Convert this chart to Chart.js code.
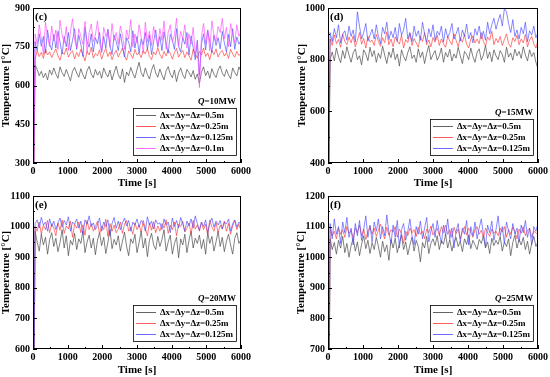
<!DOCTYPE html>
<html>
<head>
<meta charset="utf-8">
<script src="https://cdn.jsdelivr.net/npm/chart.js@4.4.1/dist/chart.umd.min.js"></script>
<style>
  html, body { margin: 0; padding: 0; background: #fff; }
  #wrap { position: relative; width: 550px; height: 377px; overflow: hidden; }
  canvas { position: absolute; }
</style>
</head>
<body>
<div id="wrap">
  <canvas id="pc" width="275" height="190" style="left:0;top:0"></canvas>
  <canvas id="pd" width="275" height="190" style="left:275px;top:0"></canvas>
  <canvas id="pe" width="275" height="189" style="left:0;top:188px"></canvas>
  <canvas id="pf" width="275" height="189" style="left:275px;top:188px"></canvas>
</div>
<script>
// sampling times [s]
const times = [0,60,120,180,240,300,360,420,480,540,600,660,720,780,840,900,960,1020,1080,1140,1200,1260,1320,1380,1440,1500,1560,1620,1680,1740,1800,1860,1920,1980,2040,2100,2160,2220,2280,2340,2400,2460,2520,2580,2640,2700,2760,2820,2880,2940,3000,3060,3120,3180,3240,3300,3360,3420,3480,3540,3600,3660,3720,3780,3840,3900,3960,4020,4080,4140,4200,4260,4320,4380,4440,4500,4560,4620,4680,4740,4800,4860,4920,4980,5040,5100,5160,5220,5280,5340,5400,5460,5520,5580,5640,5700,5760,5820,5880,5940,6000];

const gridLabels = ['Δx=Δy=Δz=0.5m', 'Δx=Δy=Δz=0.25m', 'Δx=Δy=Δz=0.125m', 'Δx=Δy=Δz=0.1m'];

// (c) Q = 10 MW
const c05 = [20,
  680,662,638,655,630,648,622,660,641,668, 645,628,672,650,635,662,640,618,655,670,
  648,632,665,641,625,658,674,645,630,662, 640,655,628,668,646,633,660,621,650,675,
  642,626,664,612,652,638,670,647,629,661, 690,650,634,668,642,625,659,681,648,632,
  664,640,622,657,673,645,630,660,615,649, 668,641,627,662,650,633,658,624,645,608,
  652,672,638,656,628,665,644,631,660,676, 648,635,662,641,626,668,650,637,672,655];
const c025 = [20,
  700,735,712,728,705,740,718,730,708,725, 742,715,698,730,720,745,710,726,735,703,
  728,712,740,720,695,732,718,748,706,724, 715,738,702,726,744,712,730,700,722,736,
  710,728,745,716,698,734,720,705,740,718, 726,708,735,722,742,712,700,730,718,746,
  720,705,732,715,738,725,702,728,744,710, 724,736,708,730,715,698,740,722,706,732,
  718,745,712,726,700,735,720,742,710,728, 736,714,728,705,740,722,710,732,716,725];
const c0125 = [20,
  770,735,800,752,790,725,815,760,738,798, 745,810,768,722,790,750,805,735,775,820,
  740,795,760,712,825,770,748,800,730,785, 762,805,728,790,745,818,755,720,795,770,
  735,800,752,710,785,768,730,812,745,790, 725,780,758,805,740,795,720,770,815,748,
  790,735,808,762,725,798,775,740,820,752, 730,785,760,805,718,792,748,700,775,640,
  760,800,738,815,770,728,795,755,785,742, 810,765,730,798,750,820,740,788,760,775];
const c01 = [20,
  800,760,835,780,720,845,790,750,830,772, 815,740,852,795,765,828,735,810,858,778,
  745,820,790,760,848,725,805,838,770,795, 850,765,730,825,790,812,748,840,775,805,
  760,830,795,740,815,780,855,750,800,765, 835,790,725,845,770,810,755,828,788,750,
  820,775,850,740,805,835,770,795,860,752, 810,780,835,745,800,760,825,720,770,592,
  790,840,760,815,735,850,795,770,828,805, 860,780,825,750,840,795,765,835,790,810];

// (d) Q = 15 MW
const d05 = [20,
  800,830,795,845,812,788,835,805,850,818, 790,826,842,800,815,780,838,822,796,848,
  812,835,790,825,805,852,818,785,830,808, 845,800,822,775,838,812,795,828,850,805,
  818,790,842,808,830,785,825,855,800,820, 835,798,815,845,790,828,810,840,795,822,
  806,848,815,785,832,820,800,845,812,790, 828,842,798,818,855,805,830,792,838,815,
  800,835,820,790,848,810,826,798,840,815, 832,805,850,818,795,838,812,828,790,765];
const d025 = [20,
  880,855,895,862,878,848,900,870,858,888, 865,892,850,875,905,860,882,845,890,868,
  876,855,898,870,852,885,866,908,858,880, 850,888,872,860,895,845,878,866,902,855,
  882,865,848,890,870,905,858,876,850,886, 868,895,855,880,862,848,890,872,858,900,
  875,850,885,868,898,860,845,880,892,865, 880,862,905,870,852,888,875,910,858,882,
  866,890,855,878,900,862,848,885,870,895, 858,880,865,898,850,876,890,862,845,875];
const d0125 = [20,
  905,870,920,885,935,865,898,912,875,930, 890,915,868,985,930,880,905,940,872,895,
  918,880,935,890,862,925,900,945,878,910, 885,925,870,940,895,915,960,880,905,870,
  930,890,912,875,945,900,868,920,888,935, 875,910,895,930,868,920,885,905,940,880,
  900,925,872,915,890,938,880,905,865,920, 895,930,880,910,875,945,900,935,960,918,
  950,975,930,998,985,940,905,955,890,915, 880,925,900,945,870,912,895,930,885,905];

// (e) Q = 20 MW
const e05 = [20,
  985,950,920,975,940,965,910,958,980,935, 962,918,948,990,930,970,905,955,940,978,
  925,960,945,985,915,950,972,930,962,908, 955,980,938,965,912,948,990,928,958,940,
  970,920,952,982,935,905,960,945,975,915, 948,985,930,962,902,955,978,940,925,968,
  935,958,990,920,950,972,910,945,965,898, 960,940,975,915,955,985,930,962,945,972,
  928,958,910,980,945,968,920,950,985,935, 965,918,952,975,940,910,962,980,945,958];
const e025 = [20,
  1000,985,1015,975,1005,990,1020,980,1010,995, 970,1012,988,1022,978,1002,992,1018,965,1008,
  995,1015,980,1006,972,1020,990,1010,985,1000, 1018,975,1002,990,1024,968,1010,985,1005,980,
  992,1015,978,1008,1020,985,998,975,1012,990, 1005,982,1020,995,970,1012,988,1016,980,1002,
  985,1010,995,1022,978,1005,990,1015,970,1008, 1000,1018,982,995,1012,975,1020,992,1005,985,
  1015,990,1008,972,1022,998,985,1012,980,1005, 992,1018,985,1010,975,1002,1020,990,1008,985];
const e0125 = [20,
  1010,1022,995,1030,1005,1015,985,1025,1000,1018, 990,1012,1028,998,1020,1005,1032,985,1015,1008,
  1025,995,1018,975,1022,1008,1035,1000,1012,990, 1005,1028,985,1015,1000,1022,970,1010,1030,995,
  1018,990,1012,1028,1002,1020,985,1015,1005,1025, 998,1020,1010,985,1032,1005,1018,992,1022,1008,
  1012,990,1025,1005,1015,980,1028,1000,1020,995, 1030,1008,985,1018,1002,1025,995,1035,1010,988,
  1015,1000,1022,980,1012,1028,998,1018,1005,1020, 992,1015,1008,1025,985,1010,1022,998,1015,1005];

// (f) Q = 25 MW
const f05 = [20,
  1060,1025,1048,1010,1055,1030,1068,1015,1045,1000, 1038,1062,1020,1050,1005,1042,1070,1028,1055,1012,
  1048,1025,1065,1035,1000,1052,1018,1040,990,1058, 1030,1062,1015,1045,1072,1025,1050,1008,1040,1065,
  1020,1055,1035,985,1048,1030,1068,1012,1045,1060, 1038,1070,1025,1055,1042,1075,1030,1058,1020,1048,
  1065,1035,1052,1018,1060,1042,1072,1028,1055,1040, 1025,1058,1045,1070,1030,1050,1012,1062,1038,1055,
  1042,1068,1020,1050,1035,1060,1005,1048,1072,1030, 1058,1040,1065,1025,1052,1010,1045,1068,1035,1050];
const f025 = [20,
  1100,1070,1085,1060,1095,1075,1090,1065,1100,1078, 1088,1062,1095,1080,1105,1070,1092,1058,1085,1100,
  1075,1095,1068,1088,1108,1080,1060,1098,1072,1090, 1082,1100,1065,1092,1078,1045,1085,1070,1095,1080,
  1090,1068,1098,1075,1085,1060,1092,1080,1102,1072, 1085,1095,1070,1100,1080,1105,1075,1090,1065,1098,
  1078,1092,1060,1085,1100,1072,1095,1082,1065,1090, 1100,1075,1088,1062,1095,1080,1068,1092,1078,1085,
  1070,1095,1082,1100,1065,1090,1075,1098,1085,1060, 1092,1078,1100,1070,1088,1095,1065,1085,1080,1072];
const f0125 = [20,
  1110,1060,1125,1075,1100,1045,1115,1080,1130,1065, 1095,1040,1110,1070,1120,1055,1090,1135,1065,1105,
  1050,1115,1085,1125,1060,1100,1070,1138,1080,1045, 1105,1065,1120,1030,1090,1110,1055,1085,1125,1070,
  1040,1100,1075,1118,1060,1095,1130,1050,1085,1110, 1065,1120,1080,1045,1105,1070,1125,1060,1095,1030,
  1085,1110,1050,1095,1075,1120,1040,1100,1070,1115, 1060,1095,1125,1075,1035,1105,1080,1118,1055,1090,
  1135,1070,1100,1045,1115,1085,1060,1110,1075,1095, 1050,1105,1080,1120,1065,1095,1040,1100,1085,1110];

const lineColors = ['rgba(70,70,70,0.85)', 'rgba(255,50,50,0.8)', 'rgba(70,70,255,0.8)', 'rgba(255,70,255,0.8)'];
const serif = "'Liberation Serif', 'Times New Roman', serif";

// panel layout (pixel sizes only)
const panels = [
  { id: 'pc', tag: '(c)', q: '=10MW', y: [300, 900, 150], series: [c05, c025, c0125, c01], yW: 33, xH: 27, right: 34, tPad: 0 },
  { id: 'pd', tag: '(d)', q: '=15MW', y: [400, 1000, 200], series: [d05, d025, d0125], yW: 53, xH: 27, right: 11, tPad: 21 },
  { id: 'pe', tag: '(e)', q: '=20MW', y: [600, 1100, 100], series: [e05, e025, e0125], yW: 33, xH: 28, right: 34, tPad: 0 },
  { id: 'pf', tag: '(f)', q: '=25MW', y: [700, 1200, 100], series: [f05, f025, f0125], yW: 53, xH: 28, right: 11, tPad: 19.5 }
];

// frame, inward ticks, panel tag and boxed legend
const decor = {
  id: 'decor',
  afterDraw(chart, args, opts) {
    const { ctx, chartArea: a, scales: { x, y } } = chart;
    ctx.save();
    ctx.strokeStyle = '#000';
    ctx.lineWidth = 1;
    ctx.strokeRect(a.left + 0.5, a.top + 0.5, a.width - 1, a.height - 1);
    ctx.beginPath();
    const xs = x.options.ticks.stepSize;
    for (let v = x.min; v <= x.max; v += xs / 2) {
      const px = Math.round(x.getPixelForValue(v)) + 0.5;
      const len = (v % xs === 0) ? 4 : 2;
      ctx.moveTo(px, a.bottom); ctx.lineTo(px, a.bottom - len);
    }
    const ys = y.options.ticks.stepSize;
    for (let v = y.min; v <= y.max; v += ys / 2) {
      const py = Math.round(y.getPixelForValue(v)) + 0.5;
      const len = ((v - y.min) % ys === 0) ? 4 : 2;
      ctx.moveTo(a.left, py); ctx.lineTo(a.left + len, py);
    }
    ctx.stroke();

    ctx.fillStyle = '#000';
    ctx.font = 'bold 11px ' + serif;
    ctx.textBaseline = 'middle';
    ctx.textAlign = 'left';
    ctx.fillText(opts.tag, a.left + 2, a.top + 9);

    // legend box
    ctx.font = 'bold 9px ' + serif;
    const sets = chart.data.datasets;
    const tw = Math.max(...sets.map(d => ctx.measureText(d.label).width));
    const bw = 27 + tw + 3;
    const bh = sets.length * 11 + 3;
    const bx = a.right - 5 - bw;
    const by = a.bottom - 8 - bh;
    ctx.fillStyle = '#fff';
    ctx.fillRect(bx, by, bw, bh);
    ctx.strokeStyle = '#000';
    ctx.lineWidth = 0.8;
    ctx.strokeRect(Math.round(bx) + 0.5, Math.round(by) + 0.5, Math.round(bw), Math.round(bh));
    sets.forEach((d, i) => {
      const ry = by + 2 + 5.5 + i * 11;
      ctx.strokeStyle = d.borderColor;
      ctx.lineWidth = 1;
      ctx.beginPath();
      ctx.moveTo(bx + 3, ry); ctx.lineTo(bx + 23, ry);
      ctx.stroke();
      ctx.fillStyle = '#000';
      ctx.fillText(d.label, bx + 27, ry + 0.5);
    });

    // Q label
    ctx.font = 'bold 9px ' + serif;
    const rest = ctx.measureText(opts.q).width;
    ctx.textAlign = 'right';
    ctx.fillText(opts.q, bx + bw, by - 6);
    ctx.font = 'italic bold 9px ' + serif;
    ctx.fillText('Q', bx + bw - rest, by - 6);
    ctx.restore();
  }
};

panels.forEach(p => {
  const n = p.series.length;
  new Chart(document.getElementById(p.id), {
    type: 'line',
    data: {
      datasets: p.series.map((vals, i) => ({
        label: gridLabels[i],
        data: times.map((t, k) => ({ x: t, y: vals[k] })),
        borderColor: lineColors[i],
        borderWidth: 0.8,
        pointRadius: 0,
        tension: 0,
        order: n - i
      }))
    },
    options: {
      responsive: false,
      animation: false,
      devicePixelRatio: 1,
      layout: { padding: { top: 5, right: p.right, left: 0, bottom: 0 } },
      plugins: {
        legend: { display: false },
        tooltip: { enabled: false },
        decor: { tag: p.tag, q: p.q }
      },
      scales: {
        x: {
          type: 'linear', min: 0, max: 6000,
          ticks: { stepSize: 1000, color: '#000', padding: 2, maxRotation: 0, callback: v => String(v), font: { family: serif, size: 10, weight: 'bold' } },
          grid: { display: false, drawTicks: false },
          border: { display: false },
          title: { display: true, text: 'Time [s]', color: '#000', padding: 0, font: { family: serif, size: 11, weight: 'bold' } },
          afterFit(s) { s.height = p.xH; }
        },
        y: {
          min: p.y[0], max: p.y[1],
          ticks: { stepSize: p.y[2], color: '#000', padding: 3, callback: v => String(v), font: { family: serif, size: 10, weight: 'bold', lineHeight: 1 } },
          grid: { display: false, drawTicks: false },
          border: { display: false },
          title: { display: true, text: 'Temperature [°C]', color: '#000', padding: { top: p.tPad, bottom: 0 }, font: { family: serif, size: 11, weight: 'bold' } },
          afterFit(s) { s.width = p.yW; }
        }
      }
    },
    plugins: [decor]
  });
});
</script>
</body>
</html>
